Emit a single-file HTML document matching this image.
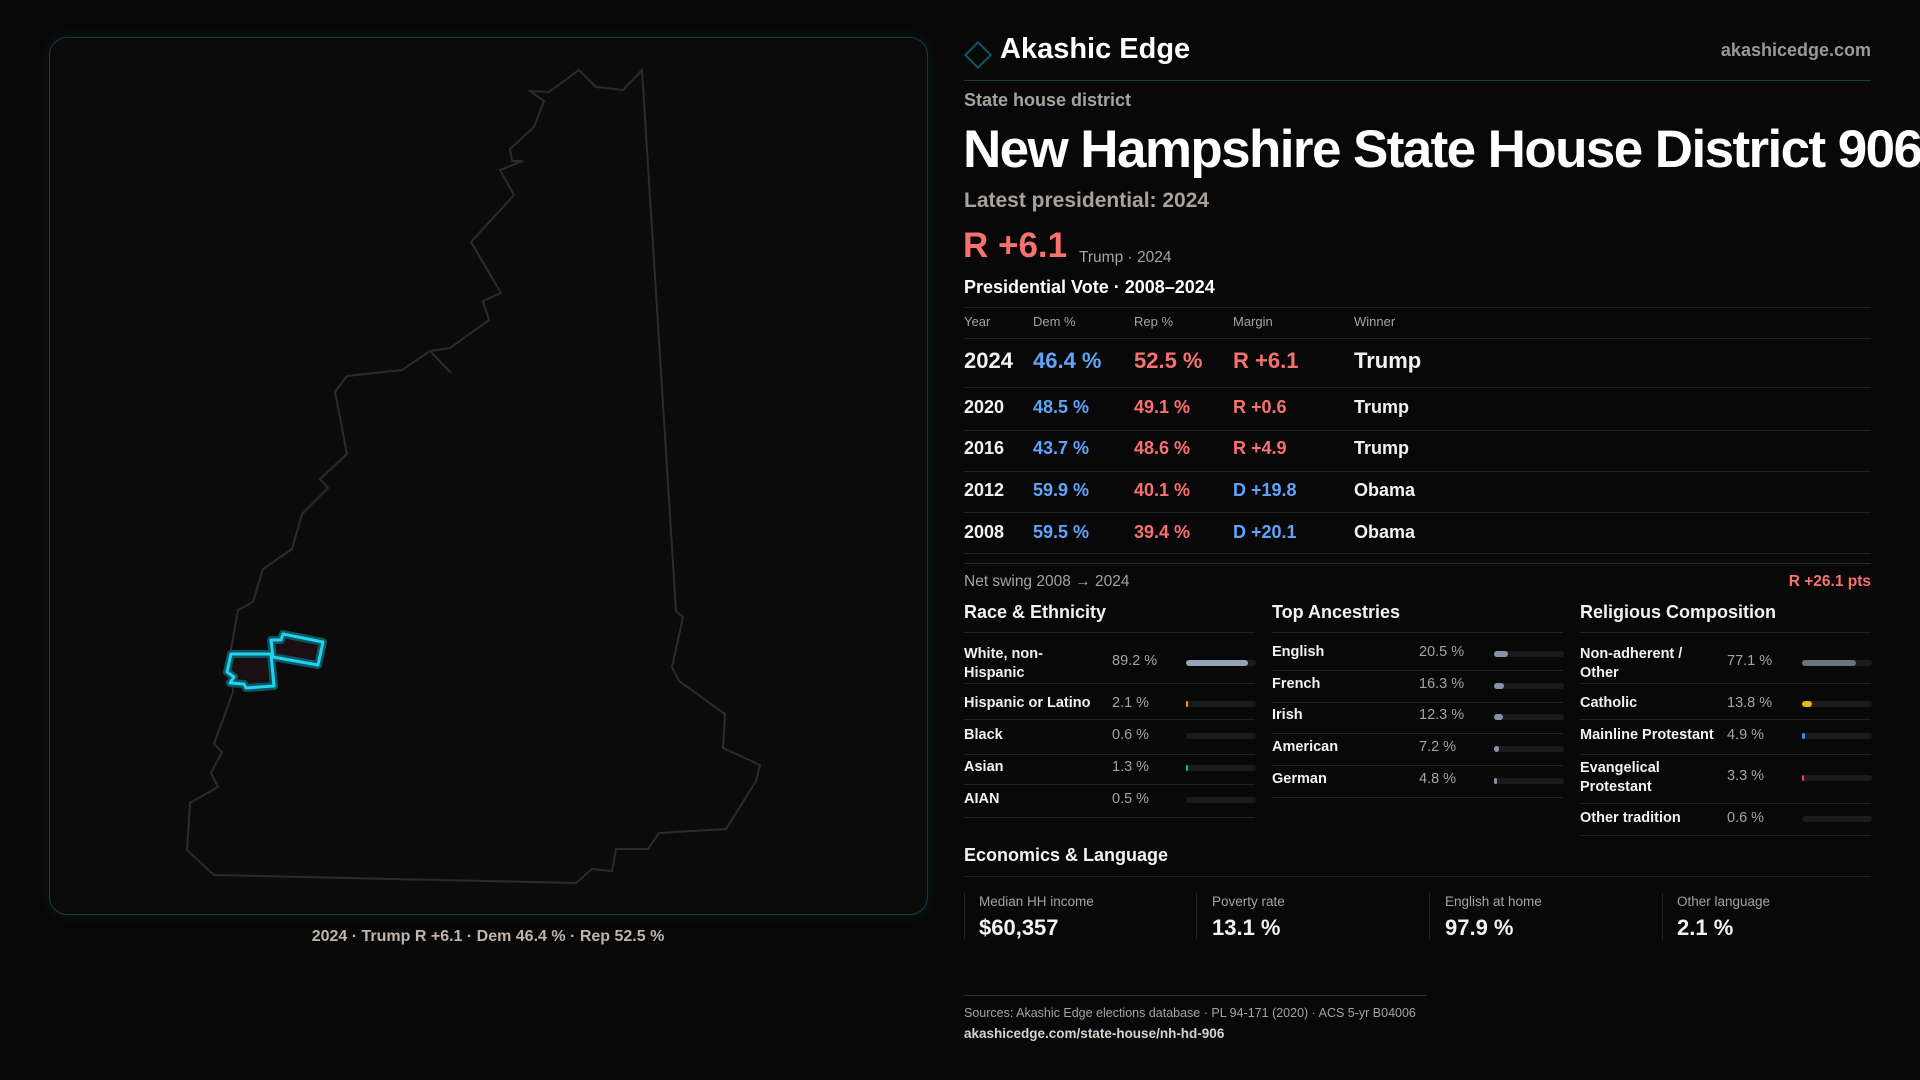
<!DOCTYPE html>
<html><head><meta charset="utf-8"><style>
*{margin:0;padding:0;box-sizing:border-box}
body{width:1920px;height:1080px;background:#090808;font-family:"Liberation Sans",sans-serif;color:#f2f2f2;position:relative;overflow:hidden}
.a{position:absolute;white-space:nowrap;line-height:1.2}
.ln{position:absolute;height:1px;background:#222224}
.g{color:#a9a29c}
.b{color:#60a5fa}.r{color:#f87171}
.s{font-weight:bold}
.bar{position:absolute;height:6px;border-radius:3px;background:#1b1b1e}
.bar i{position:absolute;left:0;top:0;height:6px;border-radius:3px}
</style></head><body>
<div style="position:absolute;left:49px;top:37px;width:879px;height:878px;border:1px solid #0f3e48;border-radius:18px;background:#0c0b0c;box-shadow:0 0 14px rgba(20,120,140,0.15)"></div>
<svg style="position:absolute;left:0;top:0" width="960" height="960">
<polygon fill="none" stroke="#2c2b2c" stroke-width="2" points="642,70 623,90 596,87 579,70 549,92 530,91 544,101 534,127 510,149 512,161 523,161 500,170 514,195 471,242 501,293 483,301 489,320 450,348 430,351 402,370 347,376 335,392 347,454 320,479 328,488 302,514 292,549 263,569 253,602 238,610 230,655 233,692 214,744 222,752 211,773 218,787 190,803 187,850 214,875 576,883 592,869 612,871 616,849 648,849 659,833 726,829 756,781 760,765 723,748 725,714 679,681 672,667 683,617 676,611"/>
<polyline fill="none" stroke="#2c2b2c" stroke-width="2" points="430,351 451,373"/>
<g fill="#1a0f12" stroke="#0e5563" stroke-width="8" stroke-linejoin="round">
<polygon points="231,654 271,654 274,686 246,688 244,684 230,683 234,677 227,672"/>
<polygon points="271,640 281,640 283,634 323,642 318,665 273,657"/>
</g>
<g fill="none" stroke="#22d3ee" stroke-width="3" stroke-linejoin="round">
<polygon points="231,654 271,654 274,686 246,688 244,684 230,683 234,677 227,672"/>
<polygon points="271,640 281,640 283,634 323,642 318,665 273,657"/>
</g>
</svg>
<div class="a s" style="left:0;width:976px;text-align:center;top:927px;font-size:16px;color:#bdb5ad">2024 · Trump R +6.1 · Dem 46.4 % · Rep 52.5 %</div>

<div style="position:absolute;left:968px;top:45px;width:20px;height:20px;border:2px solid #0f5563;transform:rotate(45deg)"></div>
<div class="a s" style="left:1000px;top:32px;font-size:29px;color:#fff">Akashic Edge</div>
<div class="a s" style="right:49px;top:40px;font-size:18px;color:#9e9893">akashicedge.com</div>
<div class="ln" style="left:964px;width:907px;top:80px;background:#163a40"></div>
<div class="a s g" style="left:964px;top:90px;font-size:18px">State house district</div>
<div class="a s" style="left:963px;top:118px;font-size:53px;color:#fff;letter-spacing:-1.6px">New Hampshire State House District 906</div>
<div class="a s g" style="left:964px;top:188px;font-size:21px">Latest presidential: 2024</div>
<div class="a s r" style="left:963px;top:225px;font-size:35px">R +6.1</div>
<div class="a g" style="left:1079px;top:249px;font-size:15.5px">Trump · 2024</div>
<div class="a s" style="left:964px;top:277px;font-size:18px;color:#fff">Presidential Vote · 2008–2024</div>
<div class="ln" style="left:964px;width:907px;top:307px"></div>
<div class="a g" style="left:964px;top:314px;font-size:13px">Year</div>
<div class="a g" style="left:1033px;top:314px;font-size:13px">Dem %</div>
<div class="a g" style="left:1134px;top:314px;font-size:13px">Rep %</div>
<div class="a g" style="left:1233px;top:314px;font-size:13px">Margin</div>
<div class="a g" style="left:1354px;top:314px;font-size:13px">Winner</div>
<div class="ln" style="left:964px;width:907px;top:338px"></div>
<div class="a s" style="left:964px;top:348px;font-size:22px">2024</div>
<div class="a s b" style="left:1033px;top:348px;font-size:22px">46.4 %</div>
<div class="a s r" style="left:1134px;top:348px;font-size:22px">52.5 %</div>
<div class="a s r" style="left:1233px;top:348px;font-size:22px">R +6.1</div>
<div class="a s" style="left:1354px;top:348px;font-size:22px">Trump</div>
<div class="ln" style="left:964px;width:907px;top:387px"></div>
<div class="a s" style="left:964px;top:397px;font-size:18px">2020</div><div class="a s b" style="left:1033px;top:397px;font-size:18px">48.5 %</div><div class="a s r" style="left:1134px;top:397px;font-size:18px">49.1 %</div><div class="a s r" style="left:1233px;top:397px;font-size:18px">R +0.6</div><div class="a s" style="left:1354px;top:397px;font-size:18px">Trump</div>
<div class="ln" style="left:964px;width:907px;top:430px"></div>
<div class="a s" style="left:964px;top:438px;font-size:18px">2016</div><div class="a s b" style="left:1033px;top:438px;font-size:18px">43.7 %</div><div class="a s r" style="left:1134px;top:438px;font-size:18px">48.6 %</div><div class="a s r" style="left:1233px;top:438px;font-size:18px">R +4.9</div><div class="a s" style="left:1354px;top:438px;font-size:18px">Trump</div>
<div class="ln" style="left:964px;width:907px;top:471px"></div>
<div class="a s" style="left:964px;top:480px;font-size:18px">2012</div><div class="a s b" style="left:1033px;top:480px;font-size:18px">59.9 %</div><div class="a s r" style="left:1134px;top:480px;font-size:18px">40.1 %</div><div class="a s b" style="left:1233px;top:480px;font-size:18px">D +19.8</div><div class="a s" style="left:1354px;top:480px;font-size:18px">Obama</div>
<div class="ln" style="left:964px;width:907px;top:512px"></div>
<div class="a s" style="left:964px;top:522px;font-size:18px">2008</div><div class="a s b" style="left:1033px;top:522px;font-size:18px">59.5 %</div><div class="a s r" style="left:1134px;top:522px;font-size:18px">39.4 %</div><div class="a s b" style="left:1233px;top:522px;font-size:18px">D +20.1</div><div class="a s" style="left:1354px;top:522px;font-size:18px">Obama</div>
<div class="ln" style="left:964px;width:907px;top:553px"></div>
<div class="ln" style="left:964px;width:907px;top:563px;background:#2a2a2c"></div>
<div class="a g" style="left:964px;top:573px;font-size:15.5px">Net swing 2008 → 2024</div>
<div class="a s r" style="right:49px;top:573px;font-size:15.5px">R +26.1 pts</div>

<div class="a s" style="left:964px;top:602px;font-size:18px">Race &amp; Ethnicity</div>
<div class="a s" style="left:1272px;top:602px;font-size:18px">Top Ancestries</div>
<div class="a s" style="left:1580px;top:602px;font-size:18px">Religious Composition</div>
<div class="ln" style="left:964px;width:291px;top:632px"></div>
<div class="ln" style="left:1272px;width:291px;top:632px"></div>
<div class="ln" style="left:1580px;width:291px;top:632px"></div>

<div class="a s" style="left:964px;top:645px;font-size:14.5px;line-height:19px">White, non-<br>Hispanic</div>
<div class="a g" style="left:1112px;top:653px;font-size:14.5px">89.2 %</div>
<div class="bar" style="left:1186px;top:660px;width:70px"><i style="width:62px;background:#94a3b8"></i></div>
<div class="ln" style="left:964px;width:291px;top:683px"></div>
<div class="a s" style="left:964px;top:695px;font-size:14.5px">Hispanic or Latino</div>
<div class="a g" style="left:1112px;top:695px;font-size:14.5px">2.1 %</div>
<div class="bar" style="left:1186px;top:701px;width:70px"><i style="width:2px;background:#f59e0b"></i></div>
<div class="ln" style="left:964px;width:291px;top:719px"></div>
<div class="a s" style="left:964px;top:727px;font-size:14.5px">Black</div>
<div class="a g" style="left:1112px;top:727px;font-size:14.5px">0.6 %</div>
<div class="bar" style="left:1186px;top:733px;width:70px"></div>
<div class="ln" style="left:964px;width:291px;top:754px"></div>
<div class="a s" style="left:964px;top:759px;font-size:14.5px">Asian</div>
<div class="a g" style="left:1112px;top:759px;font-size:14.5px">1.3 %</div>
<div class="bar" style="left:1186px;top:765px;width:70px"><i style="width:2px;background:#10b981"></i></div>
<div class="ln" style="left:964px;width:291px;top:784px"></div>
<div class="a s" style="left:964px;top:791px;font-size:14.5px">AIAN</div>
<div class="a g" style="left:1112px;top:791px;font-size:14.5px">0.5 %</div>
<div class="bar" style="left:1186px;top:797px;width:70px"></div>
<div class="ln" style="left:964px;width:291px;top:817px"></div>

<div class="a s" style="left:1272px;top:644px;font-size:14.5px">English</div><div class="a g" style="left:1419px;top:644px;font-size:14.5px">20.5 %</div><div class="bar" style="left:1494px;top:651px;width:70px"><i style="width:14px;background:#8593a8"></i></div>
<div class="ln" style="left:1272px;width:291px;top:670px"></div>
<div class="a s" style="left:1272px;top:676px;font-size:14.5px">French</div><div class="a g" style="left:1419px;top:676px;font-size:14.5px">16.3 %</div><div class="bar" style="left:1494px;top:683px;width:70px"><i style="width:10px;background:#8593a8"></i></div>
<div class="ln" style="left:1272px;width:291px;top:702px"></div>
<div class="a s" style="left:1272px;top:707px;font-size:14.5px">Irish</div><div class="a g" style="left:1419px;top:707px;font-size:14.5px">12.3 %</div><div class="bar" style="left:1494px;top:714px;width:70px"><i style="width:9px;background:#8593a8"></i></div>
<div class="ln" style="left:1272px;width:291px;top:733px"></div>
<div class="a s" style="left:1272px;top:739px;font-size:14.5px">American</div><div class="a g" style="left:1419px;top:739px;font-size:14.5px">7.2 %</div><div class="bar" style="left:1494px;top:746px;width:70px"><i style="width:5px;background:#8593a8"></i></div>
<div class="ln" style="left:1272px;width:291px;top:765px"></div>
<div class="a s" style="left:1272px;top:771px;font-size:14.5px">German</div><div class="a g" style="left:1419px;top:771px;font-size:14.5px">4.8 %</div><div class="bar" style="left:1494px;top:778px;width:70px"><i style="width:3px;background:#8593a8"></i></div>
<div class="ln" style="left:1272px;width:291px;top:797px"></div>

<div class="a s" style="left:1580px;top:645px;font-size:14.5px;line-height:19px">Non-adherent /<br>Other</div>
<div class="a g" style="left:1727px;top:653px;font-size:14.5px">77.1 %</div>
<div class="bar" style="left:1802px;top:660px;width:70px"><i style="width:54px;background:#6b7280"></i></div>
<div class="ln" style="left:1580px;width:291px;top:683px"></div>
<div class="a s" style="left:1580px;top:695px;font-size:14.5px">Catholic</div><div class="a g" style="left:1727px;top:695px;font-size:14.5px">13.8 %</div>
<div class="bar" style="left:1802px;top:701px;width:70px"><i style="width:10px;background:#eab308"></i></div>
<div class="ln" style="left:1580px;width:291px;top:719px"></div>
<div class="a s" style="left:1580px;top:727px;font-size:14.5px">Mainline Protestant</div><div class="a g" style="left:1727px;top:727px;font-size:14.5px">4.9 %</div>
<div class="bar" style="left:1802px;top:733px;width:70px"><i style="width:3px;background:#3b82f6"></i></div>
<div class="ln" style="left:1580px;width:291px;top:754px"></div>
<div class="a s" style="left:1580px;top:759px;font-size:14.5px;line-height:19px">Evangelical<br>Protestant</div><div class="a g" style="left:1727px;top:768px;font-size:14.5px">3.3 %</div>
<div class="bar" style="left:1802px;top:775px;width:70px"><i style="width:2px;background:#ef4444"></i></div>
<div class="ln" style="left:1580px;width:291px;top:803px"></div>
<div class="a s" style="left:1580px;top:810px;font-size:14.5px">Other tradition</div><div class="a g" style="left:1727px;top:810px;font-size:14.5px">0.6 %</div>
<div class="bar" style="left:1802px;top:816px;width:70px"></div>
<div class="ln" style="left:1580px;width:291px;top:835px"></div>

<div class="a s" style="left:964px;top:845px;font-size:18px">Economics &amp; Language</div>
<div class="ln" style="left:964px;width:907px;top:876px"></div>
<div style="position:absolute;left:964px;top:893px;width:1px;height:47px;background:#222"></div>
<div style="position:absolute;left:1196px;top:893px;width:1px;height:47px;background:#222"></div>
<div style="position:absolute;left:1429px;top:893px;width:1px;height:47px;background:#222"></div>
<div style="position:absolute;left:1662px;top:893px;width:1px;height:47px;background:#222"></div>
<div class="a g" style="left:979px;top:894px;font-size:13.5px">Median HH income</div><div class="a s" style="left:979px;top:915px;font-size:22px">$60,357</div>
<div class="a g" style="left:1212px;top:894px;font-size:13.5px">Poverty rate</div><div class="a s" style="left:1212px;top:915px;font-size:22px">13.1 %</div>
<div class="a g" style="left:1445px;top:894px;font-size:13.5px">English at home</div><div class="a s" style="left:1445px;top:915px;font-size:22px">97.9 %</div>
<div class="a g" style="left:1677px;top:894px;font-size:13.5px">Other language</div><div class="a s" style="left:1677px;top:915px;font-size:22px">2.1 %</div>

<div class="ln" style="left:964px;width:463px;top:995px;background:#163a40"></div>
<div class="a g" style="left:964px;top:1006px;font-size:12.5px">Sources: Akashic Edge elections database · PL 94-171 (2020) · ACS 5-yr B04006</div>
<div class="a s" style="left:964px;top:1026px;font-size:13.5px;color:#d8d2cc">akashicedge.com/state-house/nh-hd-906</div>
</body></html>
